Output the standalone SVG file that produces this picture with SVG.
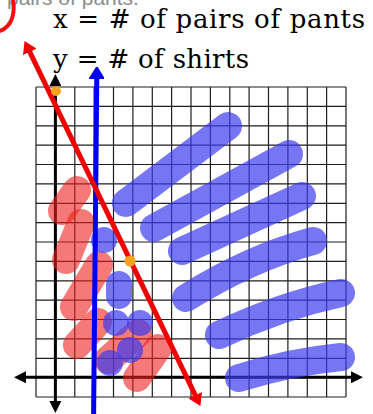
<svg xmlns="http://www.w3.org/2000/svg" width="373" height="414" viewBox="0 0 373 414">
  <style>
    .grid { stroke: #1e1e1e; stroke-width: 1.2; fill: none; }
    .axis { stroke: #000; stroke-width: 3; fill: none; }
    .blue { stroke: #3c3cf0; stroke-opacity: 0.7; stroke-width: 28; stroke-linecap: round; fill: none; }
    .blob { stroke: #3c3cf0; stroke-opacity: 0.7; stroke-width: 26; stroke-linecap: round; fill: none; }
    .red { stroke: #f02020; stroke-opacity: 0.6; stroke-width: 28; stroke-linecap: round; fill: none; }
    .dot { fill: #f6a21e; }
    .serif { font-family: "DejaVu Serif", "Liberation Serif", serif; font-size: 26px; fill: #000; }
    .faded { font-family: "Liberation Sans", Arial, sans-serif; font-size: 21px; fill: #8c8c8c; }
  </style>
  <defs>
    <marker id="ahBlack" markerUnits="userSpaceOnUse" viewBox="0 0 12 12" refX="5" refY="6" markerWidth="12" markerHeight="12" orient="auto-start-reverse">
      <path d="M0,0 L12,6 L0,12 z" fill="#000"/>
    </marker>
    <marker id="ahRed" markerUnits="userSpaceOnUse" viewBox="0 0 12 15" refX="5" refY="7.5" markerWidth="12" markerHeight="15" orient="auto-start-reverse">
      <path d="M0,0 L12,7.5 L0,15 z" fill="#f00000"/>
    </marker>
    <marker id="ahBlue" markerUnits="userSpaceOnUse" viewBox="0 0 12 15" refX="5" refY="7.5" markerWidth="12" markerHeight="15" orient="auto-start-reverse">
      <path d="M0,0 L12,7.5 L0,15 z" fill="#0000f0" stroke="#0000f0" stroke-width="1.5" stroke-linejoin="round"/>
    </marker>
  </defs>

  <g id="labels">
    <text class="faded" x="7" y="5">pairs of pants.</text>
    <path d="M13,0 C15,12 13,26 0,31" stroke="#f01010" stroke-width="4" fill="none" stroke-linecap="round"/>
    <text class="serif" x="53" y="28" textLength="312" lengthAdjust="spacing">x = # of pairs of pants</text>
    <text class="serif" x="53" y="68" textLength="196" lengthAdjust="spacing">y = # of shirts</text>
  </g>

  <g id="grid">
    <path class="grid" d="M36,87V397M55.4,87V397M74.8,87V397M94.1,87V397M113.5,87V397M132.9,87V397M152.3,87V397M171.6,87V397M191,87V397M210.4,87V397M229.8,87V397M249.1,87V397M268.5,87V397M287.9,87V397M307.3,87V397M326.6,87V397M346,87V397
      M36,87H346M36,106.4H346M36,125.8H346M36,145.1H346M36,164.5H346M36,183.9H346M36,203.3H346M36,222.6H346M36,242H346M36,261.4H346M36,280.8H346M36,300.1H346M36,319.5H346M36,338.9H346M36,358.3H346M36,377.6H346M36,397H346"/>
  </g>

  <g id="axes">
    <line class="axis" x1="55.4" y1="81" x2="55.4" y2="406" marker-start="url(#ahBlack)" marker-end="url(#ahBlack)"/>
    <line class="axis" x1="21" y1="377.3" x2="356" y2="377.3" marker-start="url(#ahBlack)" marker-end="url(#ahBlack)"/>
  </g>

  <g id="shaded-red">
    <line class="red" x1="77" y1="190" x2="62" y2="211"/>
    <line class="red" x1="81" y1="223" x2="66" y2="260"/>
    <line class="red" x1="99" y1="265" x2="74" y2="307"/>
    <line class="red" x1="98" y1="322" x2="77" y2="345"/>
    <line class="red" x1="138" y1="333" x2="108" y2="360"/>
    <line class="red" x1="158" y1="348" x2="137" y2="378"/>
  </g>

  <g id="shaded-blue">
    <line class="blue" x1="228" y1="126" x2="126" y2="203"/>
    <line class="blue" x1="289" y1="154" x2="154" y2="228"/>
    <line class="blue" x1="302" y1="196" x2="182" y2="251"/>
    <path class="blue" d="M313,241 Q250,258 186,298"/>
    <path class="blue" d="M341,293 Q280,306 219,335"/>
    <path class="blue" d="M341,357 Q290,362 239,378"/>
    <line class="blob" x1="104" y1="240" x2="104" y2="240"/>
    <line class="blob" x1="119" y1="284" x2="119" y2="296"/>
    <line class="blob" x1="116" y1="323" x2="116" y2="323"/>
    <line class="blob" x1="140" y1="323" x2="140" y2="323"/>
    <line class="blob" x1="130" y1="350" x2="130" y2="350"/>
    <line class="blob" x1="110" y1="363" x2="110" y2="363"/>
  </g>

  <g id="connectors">
    <line x1="96.8" y1="74" x2="93.6" y2="414" stroke="#0000f0" stroke-width="5" marker-start="url(#ahBlue)"/>
    <line x1="27.6" y1="47.4" x2="197.4" y2="399.6" stroke="#f00000" stroke-width="5" marker-start="url(#ahRed)" marker-end="url(#ahRed)"/>
  </g>

  <g id="points">
    <circle class="dot" cx="56" cy="91" r="5"/>
    <circle class="dot" cx="130" cy="261" r="5.5"/>
  </g>
</svg>
